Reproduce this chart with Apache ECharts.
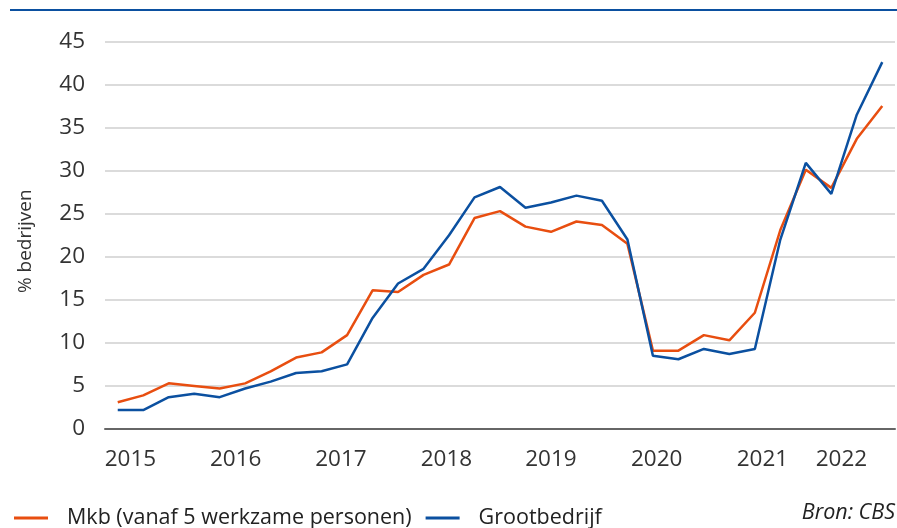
<!DOCTYPE html>
<html>
<head>
<meta charset="utf-8">
<script src="https://cdn.jsdelivr.net/npm/echarts@6/dist/echarts.min.js"></script>
<style>
  html, body { margin: 0; padding: 0; background: #fff; }
  #chart { width: 897px; height: 528px; }
</style>
</head>
<body>
<div id="chart"></div>
<script>
// kwartalen 2015 K1 t/m 2022 K3
const quarters = [
  '2015 K1', '2015 K2', '2015 K3', '2015 K4',
  '2016 K1', '2016 K2', '2016 K3', '2016 K4',
  '2017 K1', '2017 K2', '2017 K3', '2017 K4',
  '2018 K1', '2018 K2', '2018 K3', '2018 K4',
  '2019 K1', '2019 K2', '2019 K3', '2019 K4',
  '2020 K1', '2020 K2', '2020 K3', '2020 K4',
  '2021 K1', '2021 K2', '2021 K3', '2021 K4',
  '2022 K1', '2022 K2', '2022 K3'
]
const years = ['2015', '2016', '2017', '2018', '2019', '2020', '2021', '2022']

const mkb = [
  3.1, 3.9, 5.3, 5.0, 4.7, 5.3, 6.7, 8.3,
  8.9, 10.9, 16.1, 15.9, 17.9, 19.1, 24.5, 25.3,
  23.5, 22.9, 24.1, 23.7, 21.5, 9.1, 9.1, 10.9,
  10.3, 13.5, 23.1, 30.1, 28.0, 33.7, 37.5
]
const groot = [
  2.2, 2.2, 3.7, 4.1, 3.7, 4.7, 5.5, 6.5,
  6.7, 7.5, 12.9, 16.9, 18.6, 22.5, 26.9, 28.1,
  25.7, 26.3, 27.1, 26.5, 22.0, 8.5, 8.1, 9.3,
  8.7, 9.3, 22.0, 30.9, 27.3, 36.5, 42.6
]
const yTicks = { min: 0, max: 45, step: 5 }

const font = '"Open Sans", "Noto Sans", sans-serif'
const orange = '#e84e10'
const blue = '#0b50a0'

// plaats van de jaarlabels op de kwartaal-as (zoals in het origineel)
const yearLabelPos = [0.5, 4.63, 8.76, 12.9, 17.0, 21.15, 25.3, 28.4]

const chart = echarts.init(document.getElementById('chart'))
chart.setOption({
  animation: false,
  grid: { left: 105, right: 2, top: 41.5, bottom: 99 },
  legend: {
    left: 9,
    top: 502,
    itemWidth: 34,
    itemHeight: 3,
    itemGap: 14,
    icon: 'rect',
    textStyle: { fontFamily: font, fontSize: 21.5, color: '#222', padding: [0, 0, 0, 14] },
    data: ['Mkb (vanaf 5 werkzame personen)', 'Grootbedrijf']
  },
  graphic: [
    { type: 'rect', shape: { x: 10, y: 9, width: 887, height: 2 }, style: { fill: blue } },
    {
      type: 'text', right: 2, top: 502,
      style: { text: 'Bron: CBS', font: 'italic 21.5px ' + font, fill: '#222' }
    }
  ],
  xAxis: {
    type: 'value',
    min: -0.5,
    max: quarters.length - 0.5,
    axisLine: { show: true, onZero: false, lineStyle: { color: '#666', width: 2 } },
    axisTick: { show: false },
    splitLine: { show: false },
    axisLabel: {
      customValues: yearLabelPos,
      formatter: v => years[yearLabelPos.indexOf(v)] || '',
      margin: 19,
      fontFamily: font,
      fontSize: 22.5,
      color: '#333'
    }
  },
  yAxis: {
    type: 'value',
    min: yTicks.min,
    max: yTicks.max,
    interval: yTicks.step,
    name: '% bedrijven',
    nameLocation: 'middle',
    nameGap: 70,
    nameTextStyle: { fontFamily: font, fontSize: 19, color: '#333', padding: [0, 12, 0, 0] },
    axisLine: { show: false },
    axisTick: { show: false },
    axisLabel: { margin: 20, fontFamily: font, fontSize: 22.5, color: '#333' },
    splitLine: { lineStyle: { color: '#cfcfcf', width: 1.5 } }
  },
  tooltip: { trigger: 'axis' },
  series: [
    {
      name: 'Mkb (vanaf 5 werkzame personen)',
      type: 'line',
      data: mkb.map((v, i) => [i, v]),
      showSymbol: false,
      lineStyle: { color: orange, width: 2.5 },
      itemStyle: { color: orange }
    },
    {
      name: 'Grootbedrijf',
      type: 'line',
      data: groot.map((v, i) => [i, v]),
      showSymbol: false,
      lineStyle: { color: blue, width: 2.5 },
      itemStyle: { color: blue }
    }
  ]
})
</script>
</body>
</html>
